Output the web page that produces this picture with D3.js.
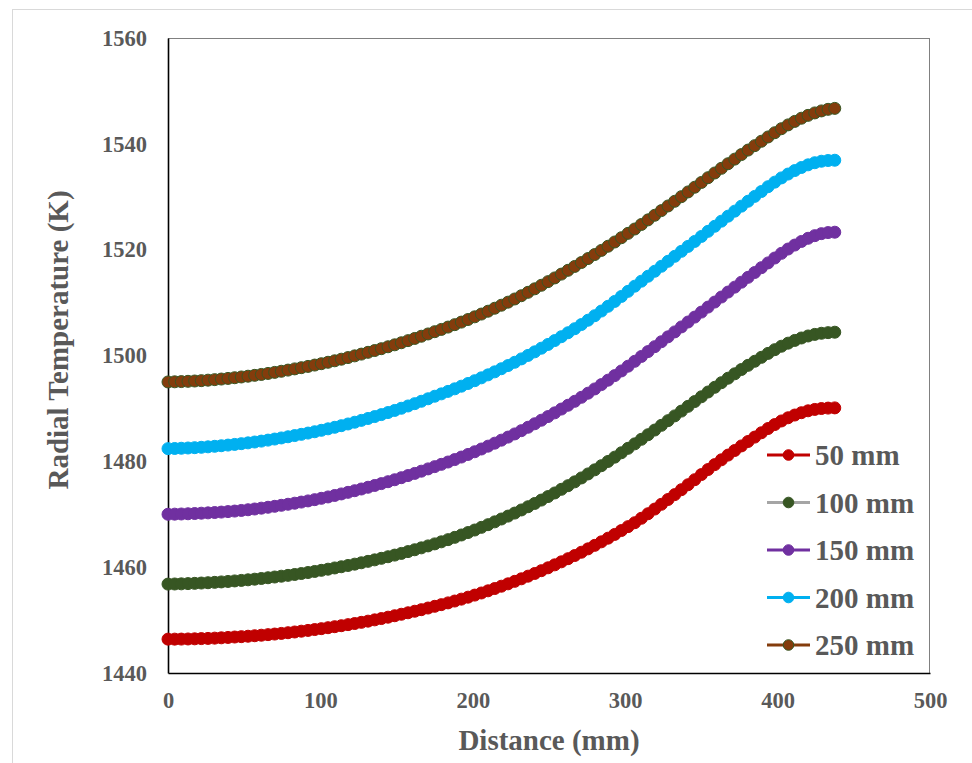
<!DOCTYPE html>
<html>
<head>
<meta charset="utf-8">
<script src="https://cdn.jsdelivr.net/npm/d3@7"></script>
<style>
html,body{margin:0;padding:0;background:#fff;}
svg{display:block;}
</style>
</head>
<body>
<svg id="chart" width="972" height="763"></svg>
<script>
// ---------- DATA ----------
const distance = [0,4.375,8.75,13.125,17.5,21.875,26.25,30.625,35,39.375,43.75,48.125,52.5,56.875,61.25,65.625,70,74.375,78.75,83.125,87.5,91.875,96.25,100.625,105,109.375,113.75,118.125,122.5,126.875,131.25,135.625,140,144.375,148.75,153.125,157.5,161.875,166.25,170.625,175,179.375,183.75,188.125,192.5,196.875,201.25,205.625,210,214.375,218.75,223.125,227.5,231.875,236.25,240.625,245,249.375,253.75,258.125,262.5,266.875,271.25,275.625,280,284.375,288.75,293.125,297.5,301.875,306.25,310.625,315,319.375,323.75,328.125,332.5,336.875,341.25,345.625,350,354.375,358.75,363.125,367.5,371.875,376.25,380.625,385,389.375,393.75,398.125,402.5,406.875,411.25,415.625,420,424.375,428.75,433.125,437.5];

const t50 = [1446.40,1446.40,1446.41,1446.43,1446.46,1446.50,1446.54,1446.59,1446.65,1446.72,1446.80,
1446.87,1446.95,1447.04,1447.14,1447.25,1447.36,1447.48,1447.61,1447.75,1447.90,
1448.05,1448.21,1448.38,1448.56,1448.75,1448.94,1449.14,1449.35,1449.57,1449.80,
1450.04,1450.29,1450.55,1450.82,1451.10,1451.38,1451.67,1451.97,1452.28,1452.60,
1452.92,1453.25,1453.60,1453.96,1454.33,1454.72,1455.12,1455.53,1455.96,1456.40,
1456.85,1457.32,1457.80,1458.30,1458.81,1459.34,1459.88,1460.44,1461.01,1461.60,
1462.20,1462.82,1463.46,1464.12,1464.79,1465.48,1466.19,1466.92,1467.66,1468.40,
1469.24,1470.10,1470.98,1471.88,1472.79,1473.71,1474.64,1475.58,1476.53,1477.50,
1478.45,1479.38,1480.29,1481.18,1482.05,1482.91,1483.75,1484.58,1485.40,1486.20,
1486.95,1487.63,1488.23,1488.75,1489.19,1489.55,1489.81,1489.98,1490.06,1490.10];

const t100 = [1456.80,1456.82,1456.85,1456.89,1456.94,1457.00,1457.06,1457.13,1457.21,1457.30,1457.40,
1457.50,1457.61,1457.73,1457.86,1458.00,1458.14,1458.29,1458.45,1458.62,1458.80,
1458.99,1459.19,1459.40,1459.62,1459.85,1460.08,1460.32,1460.57,1460.83,1461.10,
1461.38,1461.67,1461.97,1462.28,1462.60,1462.94,1463.29,1463.65,1464.02,1464.40,
1464.79,1465.20,1465.63,1466.08,1466.54,1467.02,1467.52,1468.03,1468.56,1469.10,
1469.65,1470.22,1470.81,1471.42,1472.04,1472.68,1473.34,1474.02,1474.71,1475.40,
1476.12,1476.86,1477.62,1478.39,1479.18,1479.98,1480.79,1481.62,1482.46,1483.30,
1484.16,1485.03,1485.91,1486.80,1487.69,1488.59,1489.49,1490.39,1491.30,1492.20,
1493.10,1493.99,1494.86,1495.71,1496.54,1497.35,1498.14,1498.91,1499.66,1500.40,
1501.10,1501.75,1502.33,1502.85,1503.31,1503.69,1503.99,1504.20,1504.32,1504.40];

const t150 = [1470.00,1470.02,1470.05,1470.09,1470.14,1470.20,1470.26,1470.33,1470.41,1470.50,1470.60,
1470.72,1470.85,1470.99,1471.15,1471.32,1471.50,1471.69,1471.89,1472.09,1472.30,
1472.52,1472.76,1473.01,1473.27,1473.55,1473.84,1474.14,1474.45,1474.77,1475.10,
1475.44,1475.79,1476.15,1476.52,1476.91,1477.31,1477.72,1478.14,1478.57,1479.00,
1479.43,1479.87,1480.33,1480.81,1481.30,1481.81,1482.33,1482.87,1483.43,1484.00,
1484.58,1485.18,1485.80,1486.44,1487.10,1487.77,1488.46,1489.16,1489.88,1490.60,
1491.34,1492.10,1492.88,1493.68,1494.50,1495.34,1496.20,1497.08,1497.98,1498.90,
1499.82,1500.74,1501.67,1502.60,1503.53,1504.46,1505.40,1506.33,1507.26,1508.20,
1509.15,1510.10,1511.05,1511.99,1512.92,1513.85,1514.77,1515.69,1516.60,1517.50,
1518.42,1519.30,1520.12,1520.87,1521.55,1522.15,1522.65,1523.03,1523.23,1523.30];

const t200 = [1482.40,1482.43,1482.47,1482.52,1482.58,1482.65,1482.74,1482.84,1482.95,1483.07,1483.20,
1483.34,1483.49,1483.65,1483.82,1484.01,1484.21,1484.42,1484.64,1484.87,1485.10,
1485.34,1485.59,1485.86,1486.14,1486.43,1486.74,1487.06,1487.39,1487.74,1488.10,
1488.46,1488.83,1489.22,1489.62,1490.03,1490.46,1490.90,1491.35,1491.82,1492.30,
1492.75,1493.22,1493.70,1494.20,1494.71,1495.24,1495.78,1496.34,1496.91,1497.50,
1498.10,1498.72,1499.36,1500.02,1500.69,1501.38,1502.09,1502.82,1503.56,1504.30,
1505.06,1505.85,1506.67,1507.52,1508.40,1509.30,1510.22,1511.16,1512.12,1513.10,
1514.04,1514.98,1515.92,1516.86,1517.80,1518.74,1519.68,1520.62,1521.56,1522.50,
1523.46,1524.42,1525.38,1526.33,1527.28,1528.22,1529.15,1530.07,1530.99,1531.90,
1532.76,1533.56,1534.29,1534.95,1535.53,1536.03,1536.43,1536.71,1536.85,1536.90];

const t250 = [1495.00,1495.03,1495.07,1495.12,1495.18,1495.25,1495.34,1495.44,1495.55,1495.67,1495.80,
1495.94,1496.09,1496.25,1496.42,1496.61,1496.81,1497.02,1497.24,1497.47,1497.70,
1497.94,1498.19,1498.45,1498.72,1499.00,1499.30,1499.61,1499.93,1500.26,1500.60,
1500.94,1501.29,1501.65,1502.02,1502.41,1502.81,1503.22,1503.64,1504.07,1504.50,
1504.93,1505.37,1505.83,1506.31,1506.80,1507.31,1507.83,1508.37,1508.93,1509.50,
1510.08,1510.68,1511.30,1511.94,1512.60,1513.27,1513.96,1514.66,1515.38,1516.10,
1516.83,1517.57,1518.32,1519.08,1519.86,1520.65,1521.45,1522.26,1523.08,1523.90,
1524.76,1525.63,1526.50,1527.38,1528.26,1529.14,1530.02,1530.91,1531.80,1532.70,
1533.60,1534.49,1535.37,1536.24,1537.11,1537.97,1538.82,1539.66,1540.49,1541.30,
1542.10,1542.86,1543.58,1544.24,1544.84,1545.38,1545.84,1546.22,1546.52,1546.70];

const seriesNames = ["50 mm","100 mm","150 mm","200 mm","250 mm"];
const seriesValues = [t50, t100, t150, t200, t250];
const lineColors   = ["#C00000","#A5A5A5","#7030A0","#00B0F0","#843C0C"];
const markerFills  = ["#C00000","#375623","#7030A0","#00B0F0","#843C0C"];
const markerStroke = ["#C00000","#375623","#7030A0","#00B0F0","#385723"];

const xTicks = [0,100,200,300,400,500];
const yTicks = [1440,1460,1480,1500,1520,1540,1560];

// ---------- LAYOUT ----------
const svg = d3.select("#chart");
const L = 168, R = 930, T = 38, B = 673;
const textColor = "#595959";
const fontFam = "'Liberation Serif','Times New Roman',serif";

// outer chart border
svg.append("rect").attr("x",12.5).attr("y",9.5).attr("width",990).attr("height",800)
  .attr("fill","#fff").attr("stroke","#D9D9D9").attr("stroke-width",1);

const x = d3.scaleLinear().domain([0,500]).range([L,R]);
const y = d3.scaleLinear().domain([1440,1560]).range([B,T]);

// plot frame (top & right gray)
svg.append("line").attr("x1",L).attr("x2",R).attr("y1",T+0.5).attr("y2",T+0.5)
  .attr("stroke","#808080").attr("stroke-width",1);
svg.append("line").attr("x1",R-0.5).attr("x2",R-0.5).attr("y1",T).attr("y2",B)
  .attr("stroke","#808080").attr("stroke-width",1);

// axes
const gx = svg.append("g").attr("transform",`translate(0,${B})`)
  .call(d3.axisBottom(x).tickValues(xTicks).tickSize(0).tickPadding(19.5).tickFormat(d3.format("d")));
const gy = svg.append("g").attr("transform",`translate(${L},0)`)
  .call(d3.axisLeft(y).tickValues(yTicks).tickSize(0).tickPadding(21).tickFormat(d3.format("d")));
[gx,gy].forEach(g=>{
  g.select(".domain").attr("stroke","#000").attr("stroke-width",1.6);
  g.selectAll("text").attr("fill",textColor).style("font-family",fontFam)
   .style("font-weight","bold").style("font-size","22.5px");
});

// series
const plot = svg.append("g");
seriesValues.forEach((vals,si)=>{
  const pts = distance.map((d,i)=>[d, vals[i]]);
  plot.append("path").datum(pts)
    .attr("fill","none").attr("stroke",lineColors[si]).attr("stroke-width",3)
    .attr("d", d3.line().x(p=>x(p[0])).y(p=>y(p[1])));
  plot.append("g").selectAll("circle").data(pts).join("circle")
    .attr("cx",p=>x(p[0])).attr("cy",p=>y(p[1])).attr("r",6)
    .attr("fill",markerFills[si]).attr("stroke",markerStroke[si]).attr("stroke-width",1);
});

// axis titles
svg.append("text").attr("x",549).attr("y",750).attr("text-anchor","middle")
  .attr("fill",textColor).style("font-family",fontFam).style("font-weight","bold")
  .style("font-size","29px").text("Distance (mm)");
svg.append("text").attr("transform","translate(68,340) rotate(-90)").attr("text-anchor","middle")
  .attr("fill",textColor).style("font-family",fontFam).style("font-weight","bold")
  .style("font-size","29px").text("Radial Temperature (K)");

// legend
const lg = svg.append("g");
seriesNames.forEach((name,si)=>{
  const cy = 455 + si*47.5;
  lg.append("line").attr("x1",767).attr("x2",810).attr("y1",cy).attr("y2",cy)
    .attr("stroke",lineColors[si]).attr("stroke-width",3);
  lg.append("circle").attr("cx",788.5).attr("cy",cy).attr("r",5.3)
    .attr("fill",markerFills[si]).attr("stroke",markerStroke[si]).attr("stroke-width",1);
  lg.append("text").attr("x",815).attr("y",cy+10).attr("fill",textColor)
    .style("font-family",fontFam).style("font-weight","bold").style("font-size","29px")
    .text(name);
});
</script>
</body>
</html>
